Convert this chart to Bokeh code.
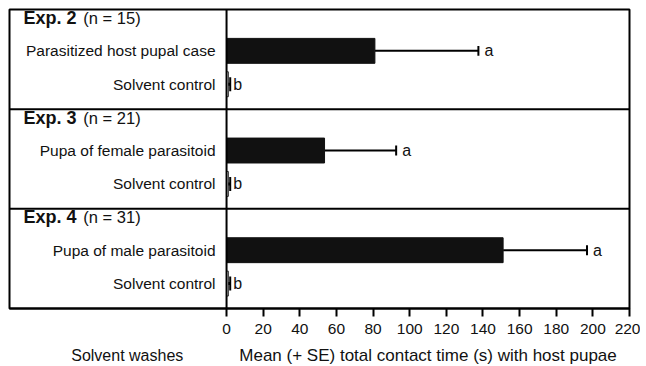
from bokeh.plotting import figure
from bokeh.layouts import column
from bokeh.models import Range1d, Span, FixedTicker, ColumnDataSource
from bokeh.core.properties import value
from bokeh.embed import file_html
from bokeh.resources import INLINE

# ---- data ----
groups = ["Exp. 2", "Exp. 3", "Exp. 4"]
group_n = ["(n = 15)", "(n = 21)", "(n = 31)"]
treatments = ["Parasitized host pupal case", "Pupa of female parasitoid", "Pupa of male parasitoid"]
treat_means = [81.0, 53.5, 151.0]
treat_upper = [137.5, 92.6, 196.8]
treat_letters = ["a", "a", "a"]
control_label = ["Solvent control", "Solvent control", "Solvent control"]
control_means = [1.0, 1.0, 1.0]
control_upper = [2.0, 2.0, 2.0]
control_letters = ["b", "b", "b"]
x_ticks = [0, 20, 40, 60, 80, 100, 120, 140, 160, 180, 200, 220]
x_title = "Mean (+ SE) total contact time (s) with host pupae"
left_title = "Solvent  washes"

FONT = "Liberation Sans"
INK = "#111111"
n = len(groups)
top = [n - i for i in range(n)]
y_title = [t - 0.085 for t in top]
y_treat = [t - 0.415 for t in top]
y_ctrl = [t - 0.75 for t in top]

x_range = Range1d(-118.5, 220)

p = figure(width=640, height=342, output_backend="svg", toolbar_location=None,
           x_range=x_range, y_range=Range1d(0, n),
           y_axis_location=None, min_border_left=9, min_border_right=11,
           min_border_top=9, min_border_bottom=34)
p.xgrid.visible = False
p.ygrid.visible = False
p.outline_line_color = "black"
p.outline_line_width = 2
p.background_fill_color = "white"
p.border_fill_color = "white"

ax = p.xaxis[0]
ax.ticker = FixedTicker(ticks=x_ticks)
ax.major_tick_in = 0
ax.major_tick_out = 8
ax.minor_tick_out = 0
ax.minor_tick_in = 0
ax.major_tick_line_width = 2
ax.axis_line_width = 2
ax.major_label_text_font = FONT
ax.major_label_text_font_size = "15.5px"
ax.major_label_text_color = INK
ax.major_label_standoff = 7

# separators
p.add_layout(Span(location=0, dimension="height", line_color="black", line_width=2))
for k in range(1, n):
    p.add_layout(Span(location=k, dimension="width", line_color="black", line_width=2))

# bars
src_t = ColumnDataSource(dict(y=y_treat, m=treat_means, u=treat_upper, lab=treatments,
                              let=treat_letters, cap0=[y - 0.05 for y in y_treat],
                              cap1=[y + 0.05 for y in y_treat]))
src_c = ColumnDataSource(dict(y=y_ctrl, m=control_means, u=control_upper, lab=control_label,
                              let=control_letters, cap0=[y - 0.07 for y in y_ctrl],
                              cap1=[y + 0.07 for y in y_ctrl]))

p.segment(x0="m", y0="y", x1="u", y1="y", source=src_t, line_color="black", line_width=2)
p.segment(x0="u", y0="cap0", x1="u", y1="cap1", source=src_t, line_color="black", line_width=2)
p.hbar(y="y", left=0, right="m", height=0.25, source=src_t, fill_color=INK, line_color=INK)

p.hbar(y="y", left=0, right="m", height=0.25, source=src_c, fill_color="white", line_color="#333333", line_width=1)
p.segment(x0="m", y0="y", x1="u", y1="y", source=src_c, line_color="black", line_width=3)
p.segment(x0="u", y0="cap0", x1="u", y1="cap1", source=src_c, line_color="black", line_width=2)

# letters
p.text(x="u", y="y", text="let", source=src_t, x_offset=6, text_baseline="middle", text_align="left",
       text_font=value(FONT), text_font_size="16px", text_color=INK)
p.text(x="u", y="y", text="let", source=src_c, x_offset=3, text_baseline="middle", text_align="left",
       text_font=value(FONT), text_font_size="16px", text_color=INK)

# category labels
p.text(x=-6, y="y", text="lab", source=src_t, text_baseline="middle", text_align="right",
       text_font=value(FONT), text_font_size="15.5px", text_color=INK)
p.text(x=-6, y="y", text="lab", source=src_c, text_baseline="middle", text_align="right",
       text_font=value(FONT), text_font_size="15.5px", text_color=INK)

# group titles
src_g = ColumnDataSource(dict(y=y_title, g=groups, nn=group_n))
p.text(x=-110.8, y="y", text="g", source=src_g, text_baseline="middle", text_align="left",
       text_font=value(FONT), text_font_size="18px", text_font_style="bold", text_color=INK)
p.text(x=-78.2, y="y", text="nn", source=src_g, text_baseline="middle", text_align="left",
       text_font=value(FONT), text_font_size="16.5px", text_color=INK)

# axis titles in a thin strip below, sharing the x range
p2 = figure(width=640, height=24, output_backend="svg", toolbar_location=None,
            x_range=x_range, y_range=Range1d(0, 1),
            x_axis_location=None, y_axis_location=None,
            min_border_left=9, min_border_right=11, min_border_top=0, min_border_bottom=0)
p2.xgrid.visible = False
p2.ygrid.visible = False
p2.outline_line_color = None
p2.background_fill_color = "white"
p2.border_fill_color = "white"
src_a = ColumnDataSource(dict(x=[110, -53], y=[0.46, 0.46], t=[x_title, left_title],
                              fs=["17px", "16px"]))
p2.text(x="x", y="y", text="t", source=src_a, text_baseline="middle", text_align="center",
        text_font=value(FONT), text_font_size="fs", text_color=INK)

layout = column(p, p2, spacing=0)
open("out.html", "w").write(file_html(layout, INLINE))
